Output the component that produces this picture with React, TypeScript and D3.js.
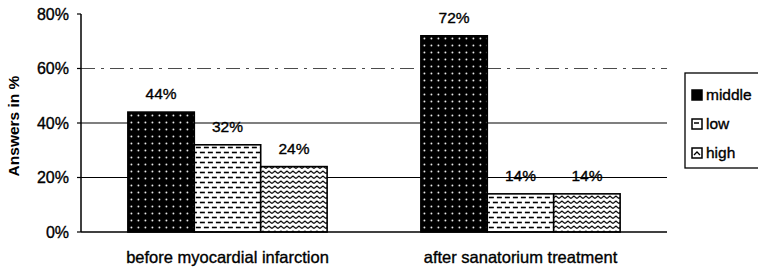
import React from "react";
import * as d3 from "d3";

const categories = ["before myocardial infarction", "after sanatorium treatment"];
const seriesNames = ["middle", "low", "high"];
const middleValues = [44, 72];
const lowValues = [32, 14];
const highValues = [24, 14];
const yTicks = [0, 20, 40, 60, 80];

const W = 758;
const H = 274;
const left = 81;
const right = 667;
const top = 14;
const bottom = 232;
const FONT = "'Liberation Sans', Arial, sans-serif";
const TS = { stroke: "#000", strokeWidth: 0.35 };

export default function App() {
  const series = [middleValues, lowValues, highValues];
  const y = d3.scaleLinear().domain([0, 80]).range([bottom, top]);
  const x0 = d3.scaleBand<string>().domain(categories).range([left, right]).paddingInner(0.32).paddingOuter(0.16);
  const x1 = d3.scaleBand<string>().domain(seriesNames).range([0, x0.bandwidth()]).padding(0);
  const fills = ["url(#pMiddle)", "url(#pLow)", "url(#pHigh)"];
  const fmt = (v: number) => `${v}%`;

  return (
    <svg width={W} height={H} style={{ position: "absolute", left: 0, top: 0, background: "#fff" }} fontFamily={FONT}>
      <defs>
        <pattern id="pMiddle" width="7" height="7" patternUnits="userSpaceOnUse">
          <rect width="7" height="7" fill="#000" />
          <circle cx="3.5" cy="3.5" r="0.9" fill="#fff" />
        </pattern>
        <pattern id="pLow" width="8" height="10" patternUnits="userSpaceOnUse">
          <rect width="8" height="10" fill="#fff" />
          <line x1="0" y1="2.5" x2="5" y2="2.5" stroke="#000" strokeWidth="1.6" />
          <line x1="4" y1="7.5" x2="9" y2="7.5" stroke="#000" strokeWidth="1.6" />
          <line x1="-4" y1="7.5" x2="1" y2="7.5" stroke="#000" strokeWidth="1.6" />
        </pattern>
        <pattern id="pHigh" width="6" height="5" patternUnits="userSpaceOnUse">
          <rect width="6" height="5" fill="#fff" />
          <polyline points="0,3.5 3,1 6,3.5" fill="none" stroke="#000" strokeWidth="1.2" />
        </pattern>
      </defs>

      {/* gridlines */}
      {yTicks.filter(t => t > 0 && t < 80).map(t => (
        <line key={t} x1={left} x2={right} y1={y(t)} y2={y(t)} stroke="#000" strokeWidth={1.2}
          strokeDasharray={t === 60 ? "14 6 3 6" : undefined} opacity={t === 60 ? 0.7 : 1} />
      ))}

      {/* bars */}
      {categories.map((c, ci) => (
        <g key={c} transform={`translate(${x0(c)},0)`}>
          {seriesNames.map((s, si) => {
            const v = series[si][ci];
            return (
              <g key={s}>
                <rect x={x1(s)} y={y(v)} width={x1.bandwidth()} height={bottom - y(v)} fill={fills[si]} stroke="#000" strokeWidth={1.6} />
                <text x={(x1(s) as number) + x1.bandwidth() / 2} y={y(v) - 13} textAnchor="middle" fontSize={15.5} {...TS}>{fmt(v)}</text>
              </g>
            );
          })}
        </g>
      ))}

      {/* axes */}
      <line x1={left} x2={left} y1={top} y2={bottom} stroke="#000" strokeWidth={1.5} />
      <line x1={left} x2={right} y1={bottom} y2={bottom} stroke="#000" strokeWidth={1.5} />
      {yTicks.map(t => (
        <g key={t}>
          <line x1={left - 4} x2={left} y1={y(t)} y2={y(t)} stroke="#000" strokeWidth={1.2} />
          <text x={left - 12} y={y(t) + 5.5} textAnchor="end" fontSize={16} {...TS}>{fmt(t)}</text>
        </g>
      ))}
      {categories.map(c => (
        <text key={c} x={(x0(c) as number) + x0.bandwidth() / 2} y={263} textAnchor="middle" fontSize={16.5} {...TS}>{c}</text>
      ))}
      <text transform={`translate(19,126) rotate(-90)`} textAnchor="middle" fontSize={15.5} fontWeight="bold">Answers in %</text>

      {/* legend */}
      <rect x={685} y={73} width={80} height={95} fill="#fff" stroke="#000" strokeWidth={1.3} />
      {seriesNames.map((s, i) => {
        const ly = 95 + i * 29;
        return (
          <g key={s}>
            <rect x={692} y={ly - 5} width={10} height={10} fill={i === 0 ? "#000" : "#fff"} stroke="#000" strokeWidth={1.5} />
            {i === 1 && <line x1={694} x2={699} y1={ly - 1} y2={ly - 1} stroke="#000" strokeWidth={1.5} />}
            {i === 2 && <polyline points={`${694},${ly + 2} ${697},${ly - 1} ${700},${ly + 2}`} fill="none" stroke="#000" strokeWidth={1.3} />}
            <text x={706} y={ly + 5} fontSize={15.5} {...TS}>{s}</text>
          </g>
        );
      })}
    </svg>
  );
}
